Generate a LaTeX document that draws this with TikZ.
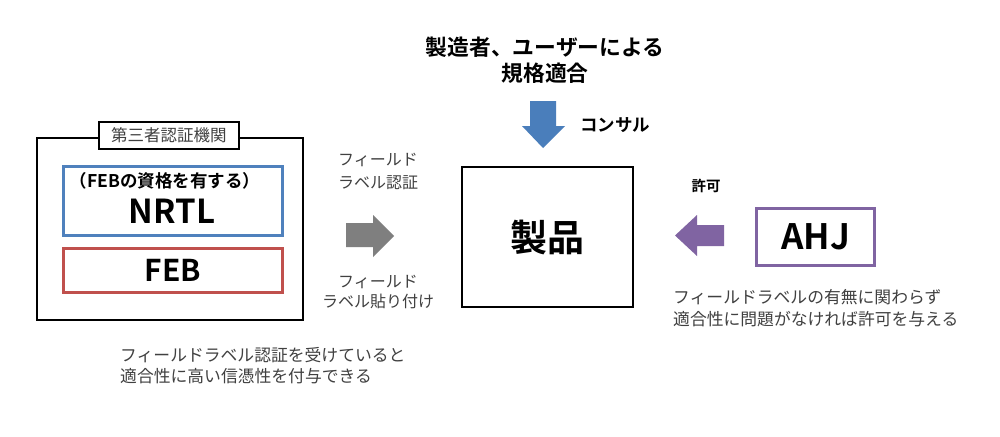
\documentclass[tikz,border=0pt]{standalone}
\usepackage{fontspec}
\setmainfont{Noto Sans CJK JP}[BoldFont={Noto Sans CJK JP Bold}]
\definecolor{cblue}{HTML}{4F81BD}
\definecolor{cred}{HTML}{C0504D}
\definecolor{cpurple}{HTML}{8064A2}
\definecolor{carrowblue}{HTML}{4A7EBB}
\definecolor{cgray}{HTML}{7F7F7F}
\definecolor{ctext}{HTML}{404040}
\begin{document}
\begin{tikzpicture}[x=1pt,y=-1pt,
  frame/.style={draw, anchor=north west, inner sep=0pt},
  note/.style={text=ctext, inner sep=0pt},
  bold/.style={font=\bfseries, inner sep=0pt}]
\useasboundingbox[fill=white] (0,0) rectangle (1000,436);
% left group
\node[frame, line width=1.5pt, minimum width=266pt, minimum height=182pt] (outer) at (36,137) {};
\node[frame, line width=1.5pt, fill=white, minimum width=140pt, minimum height=27pt] (lab) at (98,121) {};
\node[note, font=\fontsize{16.5}{19}\selectfont] (labt) at (lab.center) {第三者認証機関};
\node[frame, draw=cblue, line width=3pt, minimum width=219pt, minimum height=69pt] (nrtl) at (62,165) {};
\node[bold, font=\bfseries\fontsize{17.5}{20}\selectfont] (nrtlsub) at (165,181) {（FEBの資格を有する）};
\node[bold, font=\bfseries\fontsize{33}{36}\selectfont] (nrtlt) at (172,211) {NRTL};
\node[frame, draw=cred, line width=3pt, minimum width=219pt, minimum height=44pt] (feb) at (62,247) {};
\node[bold, font=\bfseries\fontsize{30}{34}\selectfont] (febt) at (feb.center) {FEB};
% gray arrow
\fill[cgray] (346,223) -- (373,223) -- (373,215) -- (394,236) -- (373,257) -- (373,247) -- (346,247) -- cycle;
\node[note, align=center, font=\fontsize{16}{23}\selectfont] (fl1) at (378,171) {フィールド\\ラベル認証};
\node[note, align=center, font=\fontsize{16}{20}\selectfont] (fl2) at (378,292) {フィールド\\ラベル貼り付け};
% product
\node[frame, line width=2.2pt, minimum width=171pt, minimum height=140pt] (prod) at (461,166) {};
\node[bold, font=\bfseries\fontsize{37}{42}\selectfont] (prodt) at (prod.center) {製品};
% top
\node[bold, align=center, font=\bfseries\fontsize{21.8}{26}\selectfont] (title) at (545,60) {製造者、ユーザーによる\\規格適合};
\fill[carrowblue] (530,101) -- (556,101) -- (556,126) -- (565,126) -- (543,148) -- (522,126) -- (530,126) -- cycle;
\node[bold, font=\bfseries\fontsize{17.5}{20}\selectfont] (cons) at (615,125) {コンサル};
% right
\fill[cpurple] (724,225) -- (697,225) -- (697,215) -- (675,235.5) -- (697,256) -- (697,246) -- (724,246) -- cycle;
\node[bold, font=\bfseries\fontsize{14.5}{17}\selectfont] (kyoka) at (706,186) {許可};
\node[frame, draw=cpurple, line width=3pt, minimum width=118pt, minimum height=57pt] (ahj) at (755,207) {};
\node[bold, font=\bfseries\fontsize{35}{38}\selectfont] (ahjt) at (ahj.center) {AHJ};
\node[note, align=left, anchor=north west, font=\fontsize{16.8}{22}\selectfont] (ahjnote) at (673,289) {フィールドラベルの有無に関わらず\\適合性に問題がなければ許可を与える};
% bottom left note
\node[note, align=left, anchor=north west, font=\fontsize{16.8}{21}\selectfont] (leftnote) at (120,347) {フィールドラベル認証を受けていると\\適合性に高い信憑性を付与できる};
\end{tikzpicture}
\end{document}
